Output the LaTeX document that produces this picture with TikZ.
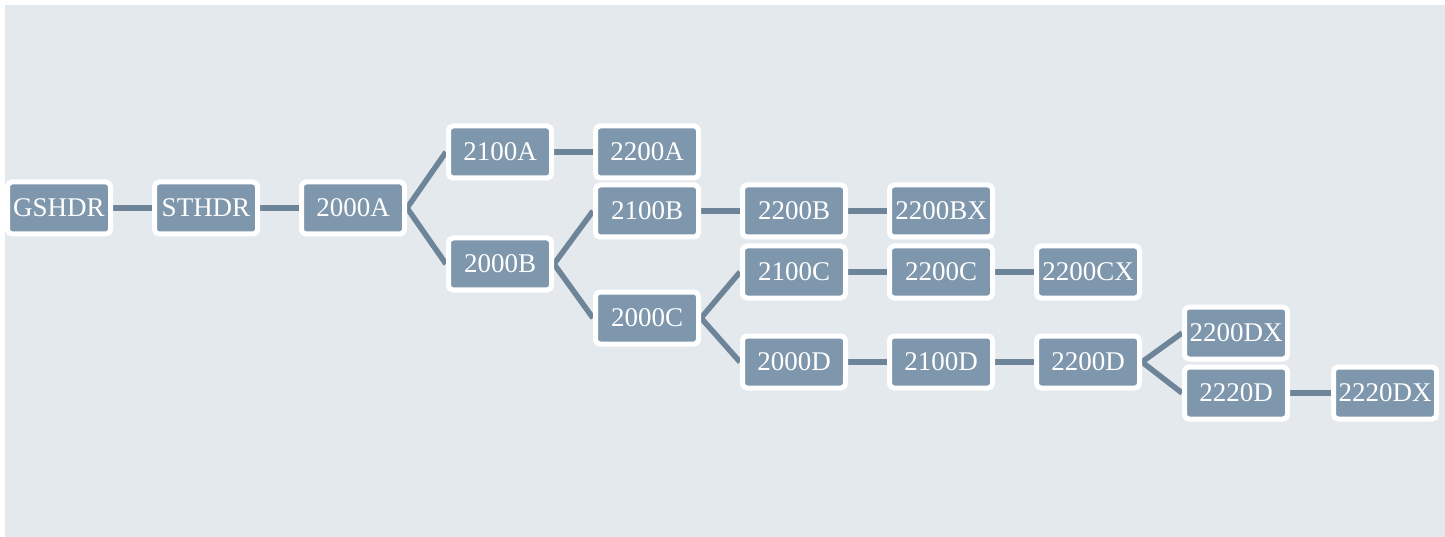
\documentclass[tikz,border=0pt]{standalone}
\usepackage{fontspec}
\setmainfont{Liberation Serif}
\usetikzlibrary{backgrounds}
\definecolor{bggray}{RGB}{228,233,238}
\definecolor{boxfill}{RGB}{127,151,173}
\definecolor{linkcol}{RGB}{110,132,153}
\tikzset{
  seg/.style={draw=white, line width=5pt, rounded corners=4.5pt, fill=boxfill,
    minimum width=103pt, minimum height=52pt, inner sep=0pt,
    text=white, font=\fontsize{27}{31}\selectfont},
  link/.style={draw=linkcol, line width=5.5pt}
}
\begin{document}
\begin{tikzpicture}[x=1pt,y=-1pt]
\useasboundingbox (0,0) rectangle (1445,537);
\node[seg] (gshdr) at (59,208) {GSHDR};
\node[seg] (sthdr) at (206,208) {STHDR};
\node[seg] (a2000) at (353,208) {2000A};
\node[seg] (a2100) at (500,152) {2100A};
\node[seg] (a2200) at (647,152) {2200A};
\node[seg] (b2000) at (500,264) {2000B};
\node[seg] (b2100) at (647,211) {2100B};
\node[seg] (b2200) at (794,211) {2200B};
\node[seg] (bx2200) at (941,211) {2200BX};
\node[seg] (c2000) at (647,318) {2000C};
\node[seg] (c2100) at (794,272) {2100C};
\node[seg] (c2200) at (941,272) {2200C};
\node[seg] (cx2200) at (1088,272) {2200CX};
\node[seg] (d2000) at (794,362) {2000D};
\node[seg] (d2100) at (941,362) {2100D};
\node[seg] (d2200) at (1088,362) {2200D};
\node[seg] (dx2200) at (1236,333) {2200DX};
\node[seg] (d2220) at (1236,393) {2220D};
\node[seg] (dx2220) at (1385,393) {2220DX};
\begin{scope}[on background layer]
\fill[bggray] (5,5) rectangle (1445,537);
\draw[link] (gshdr.east) -- (sthdr.west);
\draw[link] (sthdr.east) -- (a2000.west);
\draw[link] (a2000.east) -- (a2100.west);
\draw[link] (a2000.east) -- (b2000.west);
\draw[link] (a2100.east) -- (a2200.west);
\draw[link] (b2000.east) -- (b2100.west);
\draw[link] (b2000.east) -- (c2000.west);
\draw[link] (b2100.east) -- (b2200.west);
\draw[link] (b2200.east) -- (bx2200.west);
\draw[link] (c2000.east) -- (c2100.west);
\draw[link] (c2000.east) -- (d2000.west);
\draw[link] (c2100.east) -- (c2200.west);
\draw[link] (c2200.east) -- (cx2200.west);
\draw[link] (d2000.east) -- (d2100.west);
\draw[link] (d2100.east) -- (d2200.west);
\draw[link] (d2200.east) -- (dx2200.west);
\draw[link] (d2200.east) -- (d2220.west);
\draw[link] (d2220.east) -- (dx2220.west);
\end{scope}
\end{tikzpicture}
\end{document}
